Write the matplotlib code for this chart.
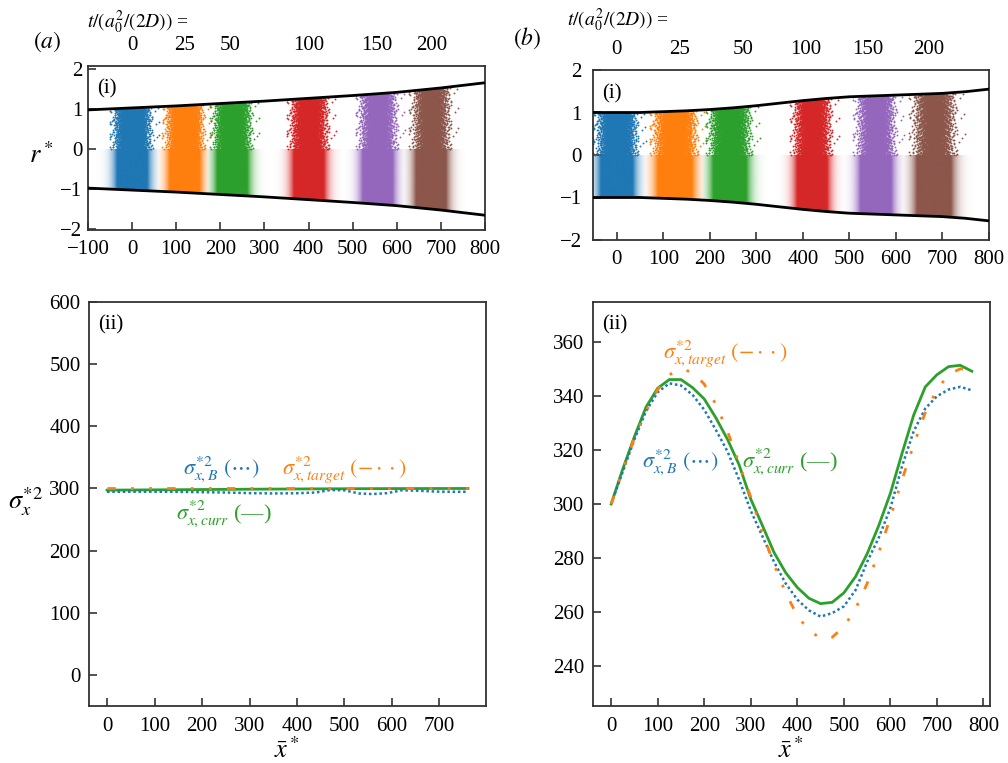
import numpy as np
import matplotlib
matplotlib.use('Agg')
import matplotlib.pyplot as plt
from matplotlib.patches import Polygon
from matplotlib.colors import to_rgb

plt.rcParams['font.family'] = 'serif'
plt.rcParams['font.serif'] = ['Liberation Serif', 'DejaVu Serif']
plt.rcParams['mathtext.fontset'] = 'stix'

W, H = 1008, 763

# tube wall radius a*(x*)
wall_x_a = [-100, 0, 100, 200, 300, 400, 500, 600, 700, 800]
wall_r_a = [0.98, 1.03, 1.08, 1.14, 1.20, 1.27, 1.34, 1.42, 1.53, 1.66]
wall_x_b = [-55, 0, 50, 100, 150, 200, 250, 300, 350, 400, 450, 500, 550, 600, 650, 700, 750, 800]
wall_r_b = [1.0, 1.0, 1.0, 1.02, 1.04, 1.07, 1.11, 1.16, 1.22, 1.28, 1.33, 1.37, 1.39, 1.41, 1.43, 1.45, 1.49, 1.55]

# particle clouds: centre and variance at each time
t_labels = ['0', '25', '50', '100', '150', '200']
colors = ['#1f77b4', '#ff7f0e', '#2ca02c', '#d62728', '#9467bd', '#8c564b']
centre_a = [0, 119, 227, 401, 557, 678]
var_a = [300, 298, 298, 297, 297, 297]
label_pos_a = [0, 118, 223, 400, 554, 680]
centre_b = [0, 125, 243, 420, 557, 682]
var_b = [300, 346, 320, 266, 283, 345]
label_pos_b = [0, 136, 271, 407, 539, 671]
n_particles = 3000

# (a)(ii) variances
xa_B = [0, 50, 100, 150, 200, 250, 300, 350, 400, 440, 470, 500, 530, 560, 590, 620, 650, 700, 760]
sa_B = [294.6, 294.8, 294.8, 294.5, 294, 293.5, 292.5, 292, 292.3, 293.5, 297.5, 297, 292, 291, 292.5, 297, 296.5, 294.8, 294.6]
xa_curr = [0, 150, 300, 450, 600, 760]
sa_curr = [297.3, 298, 298.8, 299.4, 299.8, 300]
xa_target = [0, 760]
sa_target = [300, 300]

# (b)(ii) variances
xb = [0, 25, 50, 75, 100, 125, 150, 175, 200, 225, 250, 275, 300, 325, 350, 375,
      400, 425, 450, 475, 500, 525, 550, 575, 600, 625, 650, 675, 700, 725, 750, 775]
sb_curr = [300, 313, 325, 336, 343, 346.2, 346.2, 343.2, 339, 332, 324, 314.5, 301.8, 292, 282, 274.5,
           269, 265, 263, 263.5, 267, 273, 281.5, 292, 304, 318.8, 333, 343.5, 348, 351, 351.5, 349.3]
sb_B = [300, 312, 324, 334.5, 341.5, 344.8, 344, 340.5, 335, 327.5, 319.5, 309, 297.5, 288, 278.5, 270.5,
        264.5, 260.5, 258.2, 259.5, 262, 268, 278.5, 287.5, 298.5, 314, 327, 335.5, 340, 342.5, 343.5, 342.2]
sb_target = [300, 312.5, 324.5, 334.5, 342.5, 348, 350, 349, 344.5, 337, 327, 315, 302.5, 289.5, 277.5, 267,
             258.5, 253, 250.2, 250.5, 254.5, 261, 270.5, 282, 295, 309, 322, 334, 342.5, 348, 350.2, 349.5]

fig = plt.figure(figsize=(W / 100, H / 100), dpi=100)


def px_axes(l, t, r, b):
    return fig.add_axes([l / W, 1 - b / H, (r - l) / W, (b - t) / H])


def ftext(x, y, s, **kw):
    fig.text(x / W, 1 - y / H, s, **kw)


def style(ax, xpad=7, ypad=5):
    for s in ax.spines.values():
        s.set_linewidth(1.3)
        s.set_color('#333333')
    ax.tick_params(direction='in', length=6, width=1.2, color='#333333', labelsize=15,
                   top=False, right=False)
    ax.tick_params(axis='x', pad=xpad)
    ax.tick_params(axis='y', pad=ypad)


def cloud(c, var, wx, wr, n):
    # deterministic quasi-uniform sequence -> gaussian in x, uniform across radius
    i = np.arange(1, n + 1)
    g = 1.2207440846
    u1 = (0.5 + i / g) % 1
    u2 = (0.5 + i / g**2) % 1
    u3 = (0.5 + i / g**3) % 1
    x = c + np.sqrt(var) * np.sqrt(-2 * np.log(u1)) * np.cos(2 * np.pi * u2)
    r = np.interp(x, wx, wr) * u3
    return x, r


def tube(ax, wx, wr, centres, variances, xlim, ylim, label_pos, ypad):
    x0, x1 = xlim
    xs = np.linspace(x0, x1, 1500)
    rgba = np.ones((1, len(xs), 4))
    rgba[..., 3] = 0
    best = np.zeros(len(xs))
    for c, v, col in zip(centres, variances, colors):
        a = np.clip(7 * np.exp(-(xs - c)**2 / (2 * v)), 0, 1) ** 0.6
        m = a > best
        rgba[0, m, :3] = to_rgb(col)
        rgba[0, m, 3] = a[m]
        best = np.maximum(best, a)
    im = ax.imshow(rgba, extent=(x0, x1, -2.5, 0), aspect='auto',
                   interpolation='bilinear', zorder=1)
    verts = list(zip(wx, -np.array(wr))) + [(wx[-1], 0), (wx[0], 0)]
    clip = Polygon(verts, closed=True, transform=ax.transData, facecolor='none', edgecolor='none')
    ax.add_patch(clip)
    im.set_clip_path(clip)
    for c, v, col in zip(centres, variances, colors):
        x, r = cloud(c, v, wx, wr, n_particles)
        ax.scatter(x, r, s=1.8, color=col, linewidths=0, zorder=2)
    ax.plot(wx, wr, color='black', lw=2, zorder=3)
    ax.plot(wx, -np.array(wr), color='black', lw=2, zorder=3)
    ax.set_xlim(xlim)
    ax.set_ylim(ylim)
    ax.set_xticks(range(-100 if x0 <= -100 else 0, 801, 100))
    ax.set_yticks([-2, -1, 0, 1, 2])
    style(ax, xpad=7, ypad=ypad)
    ax2 = ax.twiny()
    ax2.set_xlim(xlim)
    ax2.set_xticks(label_pos)
    ax2.set_xticklabels(t_labels)
    ax2.tick_params(length=0, pad=8, labelsize=15)
    for s in ax2.spines.values():
        s.set_visible(False)
    ax.text(0.022, 0.86, '(i)', transform=ax.transAxes, fontsize=15, va='center')


# (a)(i)
ax = px_axes(88, 66, 485, 230)
tube(ax, wall_x_a, wall_r_a, centre_a, var_a, (-100, 800), (-2.03, 2.08), label_pos_a, 4)

# (b)(i)
ax = px_axes(593, 70, 989, 240)
tube(ax, wall_x_b, wall_r_b, centre_b, var_b, (-51, 800), (-2, 2), label_pos_b, 8)

dashdotdot = (0, (3, 5.5, 1, 5.5, 1, 5.5))
dotted = (0, (1, 1.1))

# (a)(ii)
ax = px_axes(89, 302, 486, 706)
ax.plot(xa_target, sa_target, color=colors[1], lw=2, ls=dashdotdot, zorder=3)
ax.plot(xa_curr, sa_curr, color=colors[2], lw=2, zorder=2)
ax.plot(xa_B, sa_B, color=colors[0], lw=1.8, ls=dotted, zorder=2)
ax.set_xlim(-38, 798)
ax.set_ylim(-50, 600)
ax.set_xticks(range(0, 701, 100))
ax.set_yticks(range(0, 601, 100))
style(ax, xpad=8, ypad=6)
ax.text(0.022, 0.943, '(ii)', transform=ax.transAxes, fontsize=15, va='center')
ax.text(160, 324, r'$\sigma^{*2}_{x,B}$ $(\cdots)$', color=colors[0], fontsize=16, va='baseline')
ax.text(368, 324, r'$\sigma^{*2}_{x,target}$ $(-\cdot\cdot)$', color=colors[1], fontsize=16, va='baseline')
ax.text(145, 252, r'$\sigma^{*2}_{x,curr}$ (—)', color=colors[2], fontsize=16, va='baseline')

# (b)(ii)
ax = px_axes(593, 302, 990, 706)
ax.plot(xb, sb_target, color=colors[1], lw=2, ls=dashdotdot, zorder=3)
ax.plot(xb, sb_curr, color=colors[2], lw=2, zorder=2)
ax.plot(xb, sb_B, color=colors[0], lw=1.8, ls=dotted, zorder=2)
ax.set_xlim(-39, 814)
ax.set_ylim(225, 375)
ax.set_xticks(range(0, 801, 100))
ax.set_yticks(range(240, 361, 20))
style(ax, xpad=8, ypad=6)
ax.text(0.022, 0.943, '(ii)', transform=ax.transAxes, fontsize=15, va='center')
ax.text(112, 354.2, r'$\sigma^{*2}_{x,target}$ $(-\cdot\cdot)$', color=colors[1], fontsize=16, va='baseline')
ax.text(67, 313.9, r'$\sigma^{*2}_{x,B}$ $(\cdots)$', color=colors[0], fontsize=16, va='baseline')
ax.text(281, 313.9, r'$\sigma^{*2}_{x,curr}$ (—)', color=colors[2], fontsize=16, va='baseline')

# figure-level labels
ftext(47, 42, r'$(a)$', fontsize=17, ha='center', va='center')
ftext(527, 38, r'$(b)$', fontsize=17, ha='center', va='center')
ftext(87, 22, r'$t/(a_0^2/(2D))$ =', fontsize=14, ha='left', va='center')
ftext(567, 20, r'$t/(a_0^2/(2D))$ =', fontsize=14, ha='left', va='center')
ftext(41, 155, r'$r^*$', fontsize=19, ha='center', va='center')
ftext(25, 502, r'$\sigma_x^{*2}$', fontsize=19, ha='center', va='center')
ftext(287, 750, r'$\bar{x}^*$', fontsize=19, ha='center', va='center')
ftext(791, 750, r'$\bar{x}^*$', fontsize=19, ha='center', va='center')

fig.savefig('out.png', dpi=100)
